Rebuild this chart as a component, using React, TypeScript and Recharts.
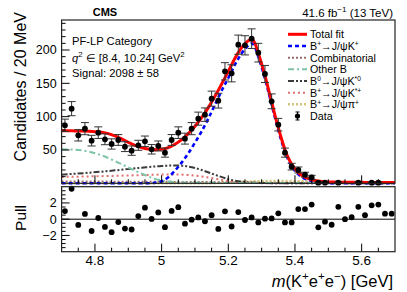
import React from 'react';
import { ComposedChart, Line, Scatter, XAxis, YAxis, ErrorBar, ReferenceLine } from 'recharts';

const FONT = '"Liberation Sans", Arial, Helvetica, sans-serif';

// 20 MeV bins
const binCenters = [
  4.71, 4.73, 4.75, 4.77, 4.79, 4.81, 4.83, 4.85, 4.87, 4.89,
  4.91, 4.93, 4.95, 4.97, 4.99, 5.01, 5.03, 5.05, 5.07, 5.09,
  5.11, 5.13, 5.15, 5.17, 5.19, 5.21, 5.23, 5.25, 5.27, 5.29,
  5.31, 5.33, 5.35, 5.37, 5.39, 5.41, 5.43, 5.45, 5.47, 5.49,
  5.51, 5.53, 5.55, 5.57, 5.59, 5.61, 5.63, 5.65, 5.67, 5.69,
];
const counts = [
  87, 112, 72, 82, 64, 76, 66, 59, 65, 55,
  49, 57, 63, 51, 56, 46, 65, 76, 67, 82,
  97, 103, 127, 124, 168, 165, 208, 207, 217, 196,
  164, 123, 88, 46, 25, 20, 13, 9, 1, 1,
  null, 1, null, null, 1, null, 1, 1, null, null,
];
const countErrors = [
  9.3, 10.6, 8.5, 9.1, 8, 8.7, 8.1, 7.7, 8.1, 7.4,
  7, 7.5, 7.9, 7.1, 7.5, 6.8, 8.1, 8.7, 8.2, 9.1,
  9.8, 10.1, 11.3, 11.1, 13, 12.8, 14.4, 14.4, 14.7, 14,
  12.8, 11.1, 9.4, 6.8, 5, 4.5, 3.6, 3, 1, 1,
  0, 1, 0, 0, 1, 0, 1, 1, 0, 0,
];
const pulls = [
  1.0, 3.75, -0.7, 0.65, -1.45, 0.15, -0.95, -1.6, -0.35, -1.15,
  -1.27, 0.38, 1.42, 0.04, 0.84, -0.98, 1.02, 1.48, -0.55, -0.06,
  0.22, -0.25, 0.5, -1.2, 0.97, -0.9, 0.88, -0.1, 0.22, -0.4,
  0.06, 0.09, 0.72, -0.4, -0.4, 1.25, 1.25, 1.8, -1.0, -0.3,
  -0.68, 1.52, 0.0, 0.24, 1.52, 0.49, 1.71, 1.8, 0.68, 0.68,
];

// fit curves
const curveMass = [
  4.70, 4.72, 4.74, 4.76, 4.78, 4.80, 4.82, 4.84, 4.86, 4.88,
  4.90, 4.92, 4.94, 4.96, 4.98, 5.00, 5.02, 5.04, 5.06, 5.08,
  5.10, 5.12, 5.14, 5.16, 5.18, 5.20, 5.21, 5.22, 5.23, 5.24,
  5.25, 5.26, 5.27, 5.28, 5.29, 5.30, 5.31, 5.32, 5.33, 5.34,
  5.35, 5.36, 5.37, 5.38, 5.39, 5.40, 5.42, 5.44, 5.46, 5.48,
  5.50, 5.52, 5.54, 5.56, 5.58, 5.60, 5.62, 5.64, 5.66, 5.68, 5.70,
];
const totalFit = [
  79, 79, 78.5, 78.3, 78, 77.5, 76.5, 74.5, 71, 66.5,
  61.5, 57, 53.5, 51.3, 50.5, 51, 53.5, 58.5, 65.5, 74.5,
  85.5, 98.5, 113.5, 130.5, 149, 168, 178, 187.5, 196, 203.5,
  209.5, 214, 216, 210, 195, 179, 161.5, 142, 122, 102,
  83.5, 66, 50.5, 38, 28.5, 21.5, 12, 7, 4.2, 2.8,
  2.1, 1.8, 1.6, 1.5, 1.45, 1.4, 1.35, 1.3, 1.3, 1.25, 1.2,
];
const signalFit = [
  0, 0, 0, 0, 0, 0, 0, 0, 0, 0,
  0, 0, 0, 0, 0.8, 3, 9, 19, 31, 45,
  61, 78, 97, 118, 139, 158, 168, 178, 187, 195,
  201.5, 207, 210, 204, 190, 174.5, 157, 138, 118, 98.5,
  80, 62.5, 47.5, 35, 25.5, 18.5, 9.5, 4.8, 2.3, 1,
  0.4, 0, 0, 0, 0, 0, 0, 0, 0, 0, 0,
];

const combMass = [4.7, 4.9, 5.1, 5.3, 5.5, 5.7];
const combFit = [2.8, 2.4, 2.0, 1.6, 1.3, 1.0];

const otherBMass = [4.70, 4.74, 4.78, 4.82, 4.86, 4.90, 4.94, 4.98, 5.02, 5.06, 5.10, 5.20, 5.40, 5.70];
const otherBFit = [51, 50.5, 47.8, 42, 33.5, 23.8, 14.5, 6.7, 2.6, 1.2, 0.8, 0.6, 0.5, 0.4];

const kstar0Mass = [4.70, 4.78, 4.86, 4.94, 5.00, 5.04, 5.08, 5.12, 5.16, 5.20, 5.24, 5.28, 5.34, 5.45, 5.70];
const kstar0Fit = [13, 15.8, 19.4, 23.4, 26, 26.8, 25.2, 20, 12.8, 6.2, 2.4, 0.8, 0.2, 0.05, 0];

const kstarPMass = [4.70, 4.80, 4.90, 5.00, 5.04, 5.08, 5.12, 5.16, 5.20, 5.24, 5.28, 5.34, 5.45, 5.70];
const kstarPFit = [9.5, 10.5, 11.7, 13.1, 13.3, 12.4, 10.2, 6.9, 3.5, 1.3, 0.4, 0.1, 0, 0];

const piMass = [4.7, 5.1, 5.15, 5.2, 5.25, 5.3, 5.35, 5.4, 5.45, 5.5, 5.55, 5.6, 5.7];
const piFit = [0, 0, 0.2, 1, 2.5, 3.2, 3.4, 3.2, 2.6, 1.5, 0.6, 0.2, 0];

const xTicks = [4.75, 4.8, 4.85, 4.9, 4.95, 5, 5.05, 5.1, 5.15, 5.2, 5.25, 5.3, 5.35, 5.4, 5.45, 5.5, 5.55, 5.6, 5.65];
const xLabels = [4.8, 5, 5.2, 5.4, 5.6];
const yTicks = [10, 20, 30, 40, 50, 60, 70, 80, 90, 100, 110, 120, 130, 140, 150, 160, 170, 180, 190, 200, 210, 220, 230, 240];
const yLabels = [50, 100, 150, 200];
const pullTicks = [-3.5, -3, -2.5, -2, -1.5, -1, -0.5, 0, 0.5, 1, 1.5, 2, 2.5, 3, 3.5];
const pullLabels = [-2, 0, 2];

const PLOT_LEFT = 61.6;
const PLOT_RIGHT = 395;
const MAIN_TOP = 20;
const MAIN_BOTTOM = 183.3;
const PULL_TOP = 186.7;
const PULL_BOTTOM = 251.7;

const toSeries = (ms: number[], vs: number[]) => ms.map((m, i) => ({ m, v: vs[i] }));

const dataPoints = binCenters
  .map((m, i) => ({ m, v: counts[i], err: countErrors[i] }))
  .filter((d) => d.v !== null);
const pullPoints = binCenters.map((m, i) => ({ m, v: pulls[i] }));

const inList = (v: number, list: number[]) => list.some((l) => Math.abs(l - v) < 1e-6);
const fmt = (v: number) => (v < 0 ? '\u2212' + String(-v) : String(v));

function XTick(props: any) {
  const { x, payload, bottom, showLabel } = props;
  const major = inList(payload.value, xLabels);
  const len = major ? 8 : 4;
  return (
    <g>
      <line x1={x} x2={x} y1={bottom} y2={bottom - len} stroke="#000" strokeWidth={1} />
      {showLabel && major && (
        <text x={x} y={265} textAnchor="middle" fontSize={13.5} fontFamily={FONT} fill="#000">
          {fmt(payload.value)}
        </text>
      )}
    </g>
  );
}

function YTick(props: any) {
  const { y, payload, labels, size } = props;
  const major = inList(payload.value, labels);
  const len = major ? 8 : 4;
  return (
    <g>
      <line x1={PLOT_LEFT} x2={PLOT_LEFT + len} y1={y} y2={y} stroke="#000" strokeWidth={1} />
      {major && (
        <text x={PLOT_LEFT - 5} y={y + 4.5} textAnchor="end" fontSize={size} fontFamily={FONT} fill="#000">
          {fmt(payload.value)}
        </text>
      )}
    </g>
  );
}

type Part = string | { sup: string } | { it: string };

function RichText({ parts, x, y, size, anchor = 'start', transform, lift = 0.42, supScale = 0.7 }: {
  parts: Part[]; x: number; y: number; size: number; anchor?: string; transform?: string; lift?: number; supScale?: number;
}) {
  let raised = false;
  const shift = size * lift;
  return (
    <text x={x} y={y} fontSize={size} fontFamily={FONT} textAnchor={anchor as any} transform={transform} fill="#000">
      {parts.map((p, i) => {
        if (typeof p === 'string') {
          const dy = raised ? shift : 0;
          raised = false;
          return <tspan key={i} dy={dy}>{p}</tspan>;
        }
        if ('sup' in p) {
          const dy = raised ? 0 : -shift;
          raised = true;
          return <tspan key={i} dy={dy} fontSize={size * supScale}>{p.sup}</tspan>;
        }
        const dy = raised ? shift : 0;
        raised = false;
        return <tspan key={i} dy={dy} fontStyle="italic">{p.it}</tspan>;
      })}
    </text>
  );
}

const legendRows: { parts: Part[]; stroke: string; dash?: string; width: number; data?: boolean }[] = [
  { parts: ['Total fit'], stroke: '#ff0000', width: 3 },
  { parts: ['B', { sup: '+' }, '\u2192J/\u03c8K', { sup: '+' }], stroke: '#0000ff', dash: '4 3', width: 2.6 },
  { parts: ['Combinatorial'], stroke: '#9c6b6b', dash: '2 2', width: 2 },
  { parts: ['Other B'], stroke: '#7cc4a6', dash: '6 3 2 3', width: 2 },
  { parts: ['B', { sup: '0' }, '\u2192J/\u03c8K', { sup: '*0' }], stroke: '#3a3a3a', dash: '6 2 2 2 2 2', width: 2 },
  { parts: ['B', { sup: '+' }, '\u2192J/\u03c8K', { sup: '*+' }], stroke: '#e07070', dash: '2 3', width: 2 },
  { parts: ['B', { sup: '+' }, '\u2192J/\u03c8\u03c0', { sup: '+' }], stroke: '#d2c57a', dash: '2 2', width: 2.5 },
  { parts: ['Data'], stroke: '#000', width: 1, data: true },
];

const curveLine = (key: string, data: any[], stroke: string, width: number, dash?: string) => (
  <Line
    key={key}
    data={data}
    dataKey="v"
    type="monotone"
    stroke={stroke}
    strokeWidth={width}
    strokeDasharray={dash}
    dot={false}
    activeDot={false}
    isAnimationActive={false}
  />
);

export default function App() {
  return (
    <div style={{ position: 'absolute', left: 0, top: 0, width: 407, height: 292, background: '#fff' }}>
      <div style={{ position: 'absolute', left: 0, top: 0 }}>
        <ComposedChart width={407} height={200} margin={{ top: MAIN_TOP, right: 407 - PLOT_RIGHT, bottom: 0, left: 0 }}>
          <XAxis
            dataKey="m"
            type="number"
            domain={[4.7, 5.7]}
            ticks={xTicks}
            interval={0}
            height={200 - MAIN_BOTTOM}
            axisLine={false}
            tickLine={false}
            tick={(p: any) => <XTick {...p} bottom={MAIN_BOTTOM} showLabel={false} />}
          />
          <YAxis
            type="number"
            domain={[0, 245]}
            ticks={yTicks}
            interval={0}
            width={PLOT_LEFT}
            axisLine={false}
            tickLine={false}
            tick={(p: any) => <YTick {...p} labels={yLabels} size={12.5} />}
          />
          {curveLine('comb', toSeries(combMass, combFit), '#9c6b6b', 2, '2 2')}
          {curveLine('pi', toSeries(piMass, piFit), '#d2c57a', 2.5, '2 2')}
          {curveLine('kstarp', toSeries(kstarPMass, kstarPFit), '#e07070', 2, '2 3')}
          {curveLine('kstar0', toSeries(kstar0Mass, kstar0Fit), '#3a3a3a', 2, '6 2 2 2 2 2')}
          {curveLine('otherb', toSeries(otherBMass, otherBFit), '#7cc4a6', 2, '6 3 2 3')}
          {curveLine('signal', toSeries(curveMass, signalFit), '#0000ff', 2.6, '4 3')}
          {curveLine('total', toSeries(curveMass, totalFit), '#ff0000', 3)}
          <Scatter
            data={dataPoints}
            dataKey="v"
            isAnimationActive={false}
            shape={(p: any) => <circle cx={p.cx} cy={p.cy} r={2.9} fill="#000" />}
          >
            <ErrorBar dataKey="err" direction="y" width={4} stroke="#333" strokeWidth={1} />
          </Scatter>
        </ComposedChart>
      </div>
      <div style={{ position: 'absolute', left: 0, top: 0 }}>
        <ComposedChart width={407} height={292} margin={{ top: PULL_TOP, right: 407 - PLOT_RIGHT, bottom: 0, left: 0 }}>
          <XAxis
            dataKey="m"
            type="number"
            domain={[4.7, 5.7]}
            ticks={xTicks}
            interval={0}
            height={292 - PULL_BOTTOM}
            axisLine={false}
            tickLine={false}
            tick={(p: any) => <XTick {...p} bottom={PULL_BOTTOM} showLabel />}
          />
          <YAxis
            type="number"
            domain={[-4, 4]}
            ticks={pullTicks}
            interval={0}
            width={PLOT_LEFT}
            axisLine={false}
            tickLine={false}
            tick={(p: any) => <YTick {...p} labels={pullLabels} size={12.5} />}
          />
          <ReferenceLine y={0} stroke="#000" strokeWidth={1} />
          <Scatter
            data={pullPoints}
            dataKey="v"
            isAnimationActive={false}
            shape={(p: any) => <circle cx={p.cx} cy={p.cy} r={2.9} fill="#000" />}
          />
        </ComposedChart>
      </div>
      <svg width={407} height={292} style={{ position: 'absolute', left: 0, top: 0, pointerEvents: 'none' }}>
        <rect x={PLOT_LEFT} y={MAIN_TOP} width={PLOT_RIGHT - PLOT_LEFT} height={MAIN_BOTTOM - MAIN_TOP} fill="none" stroke="#222" strokeWidth={1.2} />
        <rect x={PLOT_LEFT} y={PULL_TOP} width={PLOT_RIGHT - PLOT_LEFT} height={PULL_BOTTOM - PULL_TOP} fill="none" stroke="#222" strokeWidth={1.2} />

        <text x={105} y={16} textAnchor="middle" fontSize={11} fontWeight="bold" fontFamily={FONT}>CMS</text>
        <RichText x={393} y={17} size={11.5} anchor="end" parts={['41.6 fb', { sup: '\u22121' }, ' (13 TeV)']} />

        <RichText x={72} y={45} size={11.2} parts={['PF-LP Category']} />
        <RichText x={72} y={61.5} size={11.2} parts={[{ it: 'q' }, { sup: '2' }, ' \u2208 [8.4, 10.24] GeV', { sup: '2' }]} />
        <RichText x={72} y={77} size={11.2} parts={['Signal: 2098 \u00b1 58']} />

        {legendRows.map((r, i) => {
          const cy = 34.3 + i * 11.67;
          return (
            <g key={i}>
              {r.data ? (
                <g>
                  <line x1={297.5} x2={297.5} y1={cy - 4} y2={cy + 4} stroke="#000" strokeWidth={1} />
                  <line x1={295.5} x2={299.5} y1={cy - 4} y2={cy - 4} stroke="#000" strokeWidth={1} />
                  <line x1={295.5} x2={299.5} y1={cy + 4} y2={cy + 4} stroke="#000" strokeWidth={1} />
                  <circle cx={297.5} cy={cy} r={2.6} fill="#000" />
                </g>
              ) : (
                <line x1={288} x2={307} y1={cy} y2={cy} stroke={r.stroke} strokeWidth={r.width} strokeDasharray={r.dash} />
              )}
              <RichText x={310} y={cy + 3.9} size={10.7} lift={0.32} supScale={0.62} parts={r.parts} />
            </g>
          );
        })}

        <RichText x={0} y={0} size={16} anchor="end" transform="translate(26,12) rotate(-90)" parts={['Candidates / 20 MeV']} />
        <RichText x={0} y={0} size={15.5} anchor="middle" transform="translate(26,218) rotate(-90)" parts={['Pull']} />
        <RichText
          x={393}
          y={287}
          size={16.5}
          anchor="end"
          parts={[{ it: 'm' }, '(K', { sup: '+' }, 'e', { sup: '+' }, 'e', { sup: '\u2212' }, ') [GeV]']}
        />
      </svg>
    </div>
  );
}
